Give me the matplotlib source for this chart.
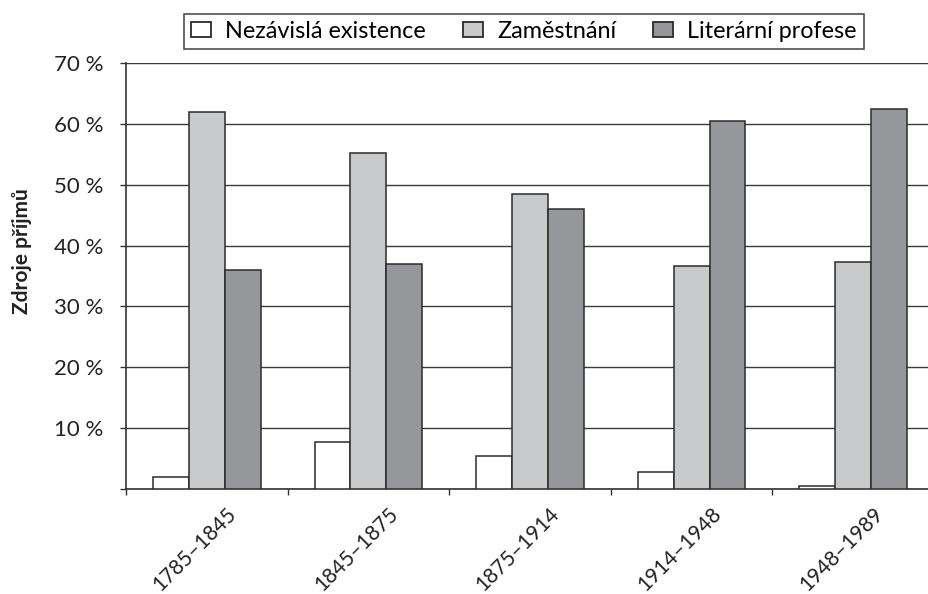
import numpy as np
import matplotlib
matplotlib.use("Agg")
import matplotlib.pyplot as plt
import matplotlib.transforms as mtransforms

plt.rcParams['font.family'] = ['Lato', 'DejaVu Sans']

# data
periods = ["1785–1845", "1845–1875", "1875–1914", "1914–1948", "1948–1989"]
series_names = ["Nezávislá existence", "Zaměstnání", "Literární profese"]
nezavisla = [2.0, 7.8, 5.5, 2.8, 0.5]
zamestnani = [62.0, 55.2, 48.5, 36.7, 37.3]
literarni = [36.0, 37.0, 46.0, 60.5, 62.5]
y_ticks = [0, 10, 20, 30, 40, 50, 60, 70]

colors = ["#ffffff", "#c8c9cb", "#96979b"]
edge = "#2b2b2b"

fig = plt.figure(figsize=(9.29, 5.94), dpi=100)
W, H = 929, 594
ax = fig.add_axes([126 / W, 105 / H, 808 / W, 426 / H])

x = np.arange(len(periods))
w = 1 / 4.5
for j, vals in enumerate([nezavisla, zamestnani, literarni]):
    ax.bar(x + (j - 1) * w, vals, width=w, color=colors[j], edgecolor=edge,
           linewidth=1.1, label=series_names[j], zorder=3)

ax.set_xlim(-0.5, len(periods) - 0.5)
ax.set_ylim(0, 70)
ax.set_yticks(y_ticks)
ax.set_yticklabels(["" if t == 0 else f"{t} %" for t in y_ticks], fontsize=16, color="#222222")
ax.yaxis.grid(True, color="#3a3a3a", linewidth=1.0, zorder=0)
ax.set_axisbelow(True)

# category boundary ticks
ax.set_xticks(np.arange(-0.5, len(periods) - 0.5 + 0.01, 1))
ax.set_xticklabels([])
ax.tick_params(axis="both", direction="out", length=4.5, width=1, color="#333333")
ax.tick_params(axis="y", pad=12)

for s in ["top", "right"]:
    ax.spines[s].set_visible(False)
for s in ["left", "bottom"]:
    ax.spines[s].set_color("#333333")
    ax.spines[s].set_linewidth(1.2)

# rotated period labels
for i, lab in enumerate(periods):
    off = mtransforms.offset_copy(ax.get_xaxis_transform(), fig=fig, x=-12, y=-60, units="dots")
    ax.text(i, 0, lab, rotation=45, ha="center", va="center", fontsize=15,
            color="#222222", transform=off)

ax.set_ylabel("Zdroje příjmů", fontsize=15, fontweight="bold", color="#222222")
ax.yaxis.set_label_coords(-94 / 808, (489 - 251) / 426)

leg = fig.legend(loc="center", bbox_to_anchor=(524 / W, 1 - 31 / H), ncol=3,
                 fontsize=16.8, frameon=True, fancybox=False, edgecolor="#222222",
                 handlelength=0.85, handleheight=0.6, columnspacing=1.6,
                 handletextpad=0.6, borderpad=0.3)
leg.get_frame().set_linewidth(1.2)
for p in leg.get_patches():
    p.set_edgecolor(edge)
    p.set_linewidth(1.3)

fig.savefig("out.png", dpi=100)
